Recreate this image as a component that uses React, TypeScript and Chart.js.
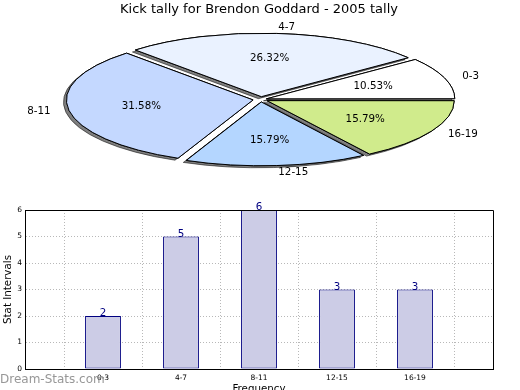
import React, { useEffect, useRef } from "react";
import { Chart, registerables } from "chart.js";

Chart.register(...registerables);

const TITLE = "Kick tally for Brendon Goddard - 2005 tally";
const categories = ["0-3", "4-7", "8-11", "12-15", "16-19"];
const counts = [2, 5, 6, 3, 3];
const pieColors = ["#ffffff", "#eaf2ff", "#c4d8ff", "#b4d6ff", "#d0eb8c"];
const pieOffsets = [24.2, 33.4, 30.9, 28.8, 28.8];
const yTicks = [0, 1, 2, 3, 4, 5, 6];
const xTitle = "Frequency";
const yTitle = "Stat Intervals";
const watermark = "Dream-Stats.com";

const FONT = "'DejaVu Sans', sans-serif";
const FLAT = 0.341; // vertical flattening of the pie

const pieTransformPlugin = {
  id: "pieTransform",
  beforeDatasetsDraw(chart: any) {
    const ctx = chart.ctx;
    const meta = chart.getDatasetMeta(0);
    const el = meta.data[0];
    const cx = el.x;
    const cy = el.y;
    ctx.save();
    ctx.translate(cx, cy);
    ctx.scale(1, -FLAT);
    ctx.translate(-cx, -cy);
    const origStroke = ctx.stroke;
    (chart as any)._origStroke = origStroke;
    ctx.stroke = function (...args: any[]) {
      ctx.save();
      ctx.setTransform(1, 0, 0, 1, 0, 0);
      origStroke.apply(ctx, args);
      ctx.restore();
    };
    // shadow pass
    ctx.save();
    ctx.shadowColor = "rgba(0,0,0,0.5)";
    ctx.shadowOffsetX = -3;
    ctx.shadowOffsetY = 2;
    ctx.shadowBlur = 0;
    meta.data.forEach((a: any) => a.draw(ctx));
    ctx.restore();
  },
  afterDatasetsDraw(chart: any) {
    const ctx = chart.ctx;
    ctx.restore();
    if ((chart as any)._origStroke) {
      delete ctx.stroke;
      if (ctx.stroke !== (chart as any)._origStroke) ctx.stroke = (chart as any)._origStroke;
    }
    const meta = chart.getDatasetMeta(0);
    const total = counts.reduce((s, v) => s + v, 0);
    ctx.save();
    ctx.fillStyle = "#000";
    ctx.font = `10.3px ${FONT}`;
    meta.data.forEach((a: any, i: number) => {
      const p = a.getProps(["x", "y", "startAngle", "endAngle", "outerRadius", "circumference"], true);
      const off = (a.options.offset || 0) / 4;
      const fix = 1 - Math.sin(Math.min(Math.PI, p.circumference || 0));
      const d = off * (1 + fix);
      const mid = (p.startAngle + p.endAngle) / 2;
      const R = p.outerRadius;
      const pos = (f: number) => ({
        x: p.x + (d + f * R) * Math.cos(mid),
        y: p.y - FLAT * (d + f * R) * Math.sin(mid),
      });
      const lp = pos(1.1);
      ctx.textBaseline = "middle";
      ctx.textAlign = Math.cos(mid) > 0 ? "left" : "right";
      ctx.fillText(categories[i], lp.x, lp.y);
      const pp = pos(0.6);
      ctx.textAlign = "center";
      ctx.fillText(((counts[i] / total) * 100).toFixed(2) + "%", pp.x - 1, pp.y);
    });
    ctx.font = `13px ${FONT}`;
    ctx.textAlign = "center";
    ctx.textBaseline = "middle";
    ctx.fillText(TITLE, 259, 10);
    ctx.restore();
  },
};

const barDecorPlugin = {
  id: "barDecor",
  afterDraw(chart: any) {
    const ctx = chart.ctx;
    const { left, right, top, bottom } = chart.chartArea;
    ctx.save();
    ctx.strokeStyle = "#000";
    ctx.lineWidth = 1;
    ctx.beginPath();
    ctx.moveTo(Math.round(left) + 0.5, Math.round(bottom) + 0.5);
    ctx.lineTo(Math.round(left) + 0.5, Math.round(top) + 0.5);
    ctx.lineTo(Math.round(right) + 0.5, Math.round(top) + 0.5);
    ctx.lineTo(Math.round(right) + 0.5, Math.round(bottom) + 0.5);
    ctx.lineTo(Math.round(left) + 0.5, Math.round(bottom) + 0.5);
    ctx.stroke();
    const meta = chart.getDatasetMeta(0);
    ctx.fillStyle = "#000080";
    ctx.font = `10.3px ${FONT}`;
    ctx.textAlign = "center";
    ctx.textBaseline = "alphabetic";
    meta.data.forEach((b: any, i: number) => {
      ctx.fillText(String(counts[i]), b.x, b.y);
    });
    ctx.fillStyle = "rgba(140,140,140,0.9)";
    ctx.font = `12px ${FONT}`;
    ctx.textAlign = "left";
    ctx.textBaseline = "middle";
    ctx.fillText(watermark, 0, 185);
    ctx.restore();
  },
};

export default function App() {
  const pieRef = useRef<HTMLCanvasElement>(null);
  const barRef = useRef<HTMLCanvasElement>(null);

  useEffect(() => {
    const pie = new Chart(pieRef.current!, {
      type: "pie",
      data: {
        labels: categories,
        datasets: [
          {
            data: counts,
            backgroundColor: pieColors,
            borderColor: "#000",
            borderWidth: 1,
            offset: pieOffsets,
            hoverOffset: 0,
            clip: false,
          } as any,
        ],
      },
      options: {
        responsive: false,
        animation: false,
        rotation: 90,
        radius: 186,
        layout: { padding: { left: 1.4, top: 0, right: 0, bottom: 1 } },
        events: [],
        plugins: {
          legend: { display: false },
          tooltip: { enabled: false },
          title: { display: false },
        },
      } as any,
      plugins: [pieTransformPlugin],
    });

    const bar = new Chart(barRef.current!, {
      type: "bar",
      data: {
        datasets: [
          {
            data: counts.map((v, i) => ({ x: i + 1, y: v })),
            backgroundColor: "#ccccE6",
            borderColor: "#000080",
            borderWidth: 1,
            borderSkipped: false,
            categoryPercentage: 1,
            barPercentage: 0.46,
          } as any,
        ],
      },
      options: {
        responsive: false,
        animation: false,
        events: [],
        layout: { padding: { top: 15, right: 27, left: 0, bottom: 0 } },
        plugins: { legend: { display: false }, tooltip: { enabled: false } },
        scales: {
          x: {
            type: "linear",
            min: 0,
            max: 6,
            offset: false,
            afterFit: (s: any) => {
              s.height = 21;
            },
            afterBuildTicks: (s: any) => {
              s.ticks = [0, 1, 2, 3, 4, 5, 6].map((v) => ({ value: v }));
            },
            ticks: {
              autoSkip: false,
              maxRotation: 0,
              padding: 5,
              color: "#000",
              font: { family: FONT, size: 7.5 },
              callback: (v: any) => categories[Number(v) - 1] ?? "",
            },
            grid: { color: "#b8b8b8", drawTicks: false, lineWidth: 1, z: 1 },
            border: { display: true, color: "#000", width: 1, dash: [1, 2], z: 2 },
            title: {
              display: true,
              text: xTitle,
              color: "#000",
              font: { family: FONT, size: 10.3 },
              padding: { top: 0, bottom: -5.5 },
            },
          },
          y: {
            type: "linear",
            min: 0,
            max: 6,
            afterFit: (s: any) => {
              s.width = 25;
            },
            afterBuildTicks: (s: any) => {
              s.ticks = yTicks.map((v) => ({ value: v }));
            },
            ticks: {
              padding: 3,
              color: "#000",
              font: { family: FONT, size: 7.5 },
            },
            grid: { color: "#b8b8b8", drawTicks: false, lineWidth: 1 },
            border: { display: true, color: "#000", width: 1, dash: [1, 2] },
            title: {
              display: true,
              text: yTitle,
              color: "#000",
              font: { family: FONT, size: 10.3 },
              padding: { top: 2.5, bottom: 0 },
            },
          },
        },
      } as any,
      plugins: [barDecorPlugin],
    });

    return () => {
      pie.destroy();
      bar.destroy();
    };
  }, []);

  return (
    <div style={{ position: "absolute", left: 0, top: 0, width: 520, height: 390, background: "#fff" }}>
      <canvas ref={pieRef} width={520} height={200} style={{ position: "absolute", left: 0, top: 0, width: 520, height: 200 }} />
      <canvas ref={barRef} width={520} height={195} style={{ position: "absolute", left: 0, top: 195, width: 520, height: 195 }} />
    </div>
  );
}
